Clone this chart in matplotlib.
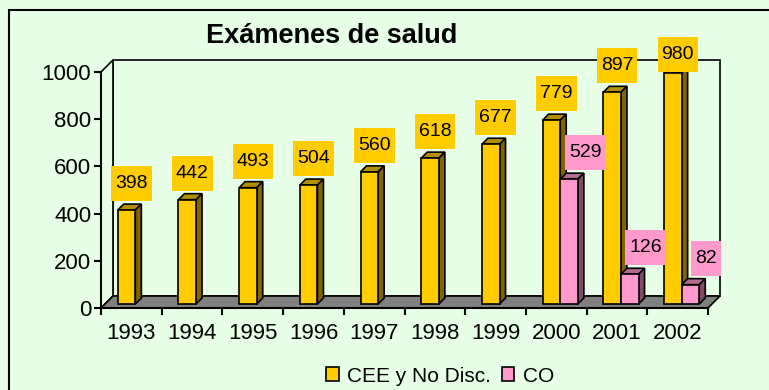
import matplotlib
matplotlib.use("Agg")
import matplotlib.pyplot as plt
import numpy as np
from matplotlib.patches import Polygon, Patch, Rectangle
from matplotlib.path import Path
from matplotlib.transforms import offset_copy

plt.rcParams["font.family"] = ["Liberation Sans", "DejaVu Sans"]

years = ["1993", "1994", "1995", "1996", "1997", "1998", "1999", "2000", "2001", "2002"]
cee = [398, 442, 493, 504, 560, 618, 677, 779, 897, 980]
co = [0, 0, 0, 0, 0, 0, 0, 529, 126, 82]
series_names = ["CEE y No Disc.", "CO"]

BG = "#E6FFE6"
YELLOW = ("#FFCC00", "#B38F00", "#7F6600")   # front, top, side
PINK = ("#FF99CC", "#B36B8F", "#7F4C66")

W, H, DPI = 769, 390, 100
DEPTH = 12          # wall depth in pixels
BAR_D0, BAR_D1 = 4, 10
BAR_W = 0.29
LABEL_H = 35        # data label box height, pixels

fig = plt.figure(figsize=(W / DPI, H / DPI), dpi=DPI, facecolor=BG)
ax = fig.add_axes([101 / W, (H - 308) / H, 607 / W, 236 / H])
ax.set_facecolor("none")
ax.set_xlim(0, len(years))
ax.set_ylim(0, 1000)


def shift(x, y, d):
    p = ax.transData.transform((x, y))
    return ax.transData.inverted().transform(p + d)


def face(points, color, z):
    poly = Polygon([shift(x, y, d) for x, y, d in points], closed=True,
                   facecolor=color, edgecolor="black", lw=1.2, zorder=z,
                   clip_on=False)
    ax.add_patch(poly)


def label_box(x0, y0, width, height, mutation_size):
    # narrow side padding, tall box like spreadsheet data labels
    hp = 0.21 * mutation_size
    yc = y0 + height / 2
    half = LABEL_H / 2
    x0, x1 = x0 - hp, x0 + width + hp
    return Path([(x0, yc - half), (x1, yc - half), (x1, yc + half),
                 (x0, yc + half), (x0, yc - half)], closed=True)


n = len(years)
# walls and floor
face([(0, 0, DEPTH), (n, 0, DEPTH), (n, 1000, DEPTH), (0, 1000, DEPTH)], BG, 0.5)
face([(0, 0, 0), (0, 1000, 0), (0, 1000, DEPTH), (0, 0, DEPTH)], BG, 0.6)
face([(0, 0, 0), (n, 0, 0), (n, 0, DEPTH), (0, 0, DEPTH)], "#808080", 0.7)

front_tf = offset_copy(ax.transData, fig=fig, x=BAR_D0, y=BAR_D0, units="dots")


def bar3d(x0, h, colors, z):
    x1 = x0 + BAR_W
    ax.bar(x0, h, width=BAR_W, align="edge", color=colors[0], edgecolor="black",
           lw=1.2, transform=front_tf, zorder=z + 0.2, clip_on=False)
    face([(x0, h, BAR_D0), (x1, h, BAR_D0), (x1, h, BAR_D1), (x0, h, BAR_D1)],
         colors[1], z + 0.1)
    face([(x1, 0, BAR_D0), (x1, 0, BAR_D1), (x1, h, BAR_D1), (x1, h, BAR_D0)],
         colors[2], z + 0.1)


def label(xc, h, text, color, dx):
    px = ax.transData.transform((xc, h))
    bottom = px[1] + BAR_D0 + 9
    # keep boxes clear of the title band
    bottom = min(bottom, H - 37 - LABEL_H)
    pos = ax.transData.inverted().transform((px[0] + dx, bottom + LABEL_H / 2))
    ax.text(pos[0], pos[1], text, ha="center", va="center", fontsize=14,
            zorder=20, clip_on=False,
            bbox=dict(boxstyle=label_box, fc=color, ec="none"))


for i in range(n):
    xc = i + 0.5
    bar3d(xc - BAR_W, cee[i], YELLOW, 2 + i)
    label(xc - BAR_W / 2, cee[i], str(cee[i]), YELLOW[0], 9)
    if co[i] > 0:
        bar3d(xc, co[i], PINK, 2.5 + i)
        label(xc + BAR_W / 2, co[i], str(co[i]), PINK[0], 20)

# axes styling
for s in ["top", "right"]:
    ax.spines[s].set_visible(False)
for s in ["left", "bottom"]:
    ax.spines[s].set_linewidth(1.5)
    ax.spines[s].set_zorder(1)
ax.set_yticks(np.arange(0, 1001, 200))
ax.set_xticks(np.arange(0, n + 1))
ax.set_xticklabels([])
ax.set_xticks(np.arange(n) + 0.5, minor=True)
ax.set_xticklabels(years, minor=True)
ax.tick_params(axis="both", which="major", direction="out", length=5,
               width=1.5, labelsize=16, pad=2)
ax.tick_params(axis="x", which="minor", length=0, labelsize=16, pad=11)

fig.text(332 / W, (H - 43) / H, "Exámenes de salud", ha="center",
         va="baseline", fontsize=19.5, fontweight="bold")

handles = [Patch(fc=YELLOW[0], ec="black", lw=1.2),
           Patch(fc=PINK[0], ec="black", lw=1.2)]
fig.legend(handles, series_names, loc="center", bbox_to_anchor=(440 / W, 14 / H),
           ncol=2, frameon=False, fontsize=15, handlelength=0.62,
           handleheight=0.62, handletextpad=0.4, columnspacing=0.5)

fig.add_artist(Rectangle((9 / W, -0.1), 1.2, (H - 10) / H + 0.1,
                         transform=fig.transFigure, fill=False, ec="black", lw=1.5))

fig.savefig("out.png", dpi=DPI, facecolor=BG)
